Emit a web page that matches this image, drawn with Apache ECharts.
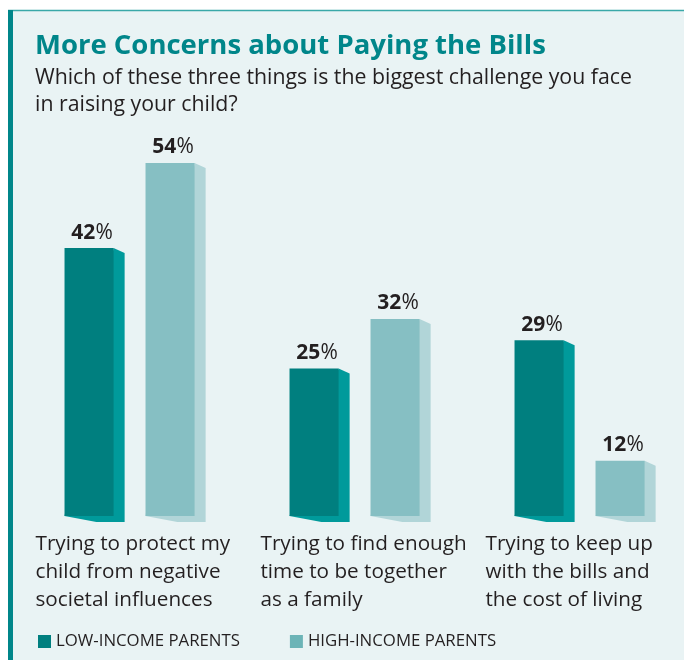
<!DOCTYPE html>
<html>
<head>
<meta charset="utf-8">
<script src="https://cdn.jsdelivr.net/npm/echarts@6/dist/echarts.min.js"></script>
<style>
  html, body { margin: 0; padding: 0; background: #ffffff; }
  #chart { width: 684px; height: 660px; }
</style>
</head>
<body>
<div id="chart"></div>
<script>
// Survey answers, percent of parents
const categories = [
  'Trying to protect my\nchild from negative\nsocietal influences',
  'Trying to find enough\ntime to be together\nas a family',
  'Trying to keep up\nwith the bills and\nthe cost of living'
];
const lowIncome = [42, 25, 29];
const highIncome = [54, 32, 12];
const seriesNames = ['LOW-INCOME PARENTS', 'HIGH-INCOME PARENTS'];

const FONT = '"Open Sans", "Noto Sans", sans-serif';
const TEXT = '#231f20';
const Y_MIN = 4.2;   // bars are cut off at the bottom of the plot
const Y_MAX = 54;

const palette = {
  low:  { front: '#007f7f', side: '#009a9b', legend: '#007f7f' },
  high: { front: '#86bfc3', side: '#b1d5d8', legend: '#6cb4b7' }
};

// Pseudo-3D column: flat front face with a receding side face
function columnRenderer(offsetFrac, colors) {
  return function (params, api) {
    const cat = api.value(0);
    const val = api.value(1);
    const band = api.size([1, 0])[0];
    const topPt = api.coord([cat, val]);
    const basePt = api.coord([cat, Y_MIN]);
    const w = band * 0.218;
    const d = band * 0.049;
    const x0 = topPt[0] + offsetFrac * band;
    const x1 = x0 + w;
    const yT = topPt[1];
    const yB = basePt[1];
    return {
      type: 'group',
      children: [
        {
          type: 'polygon',
          shape: { points: [[x1, yT], [x1 + d, yT + 5], [x1 + d, yB + 6], [x0 + w * 0.65, yB + 6], [x0, yB]] },
          style: { fill: colors.side }
        },
        {
          type: 'rect',
          shape: { x: x0, y: yT, width: w, height: yB - yT },
          style: { fill: colors.front }
        },
        {
          type: 'text',
          x: x0 + w / 2 + 3,
          y: yT - 5,
          style: {
            text: '{n|' + val + '}{p|%}',
            align: 'center',
            verticalAlign: 'bottom',
            rich: {
              n: { fontFamily: FONT, fontSize: 21, fontWeight: 'bold', fill: TEXT },
              p: { fontFamily: FONT, fontSize: 21, fontWeight: 'normal', fill: TEXT }
            }
          }
        }
      ]
    };
  };
}

// Category captions, left aligned under each pair of columns
function captionRenderer(params, api) {
  const cat = api.value(0);
  const pt = api.coord([cat, Y_MIN]);
  return {
    type: 'text',
    x: pt[0] - 99,
    y: pt[1] + 14,
    style: {
      text: categories[cat],
      fontFamily: FONT,
      fontSize: 20.7,
      lineHeight: 28,
      fill: TEXT,
      align: 'left',
      verticalAlign: 'top'
    }
  };
}

const chart = echarts.init(document.getElementById('chart'), null, { renderer: 'canvas' });

chart.setOption({
  backgroundColor: '#ffffff',
  animation: false,
  graphic: [
    { type: 'rect', z: -10, shape: { x: 8, y: 10, width: 676, height: 650 }, style: { fill: '#e9f3f4' } },
    { type: 'line', z: -9, shape: { x1: 8, y1: 10.5, x2: 684, y2: 10.5 }, style: { stroke: '#3aa8a8', lineWidth: 1.5 } },
    { type: 'rect', z: -8, shape: { x: 8, y: 10, width: 5, height: 650 }, style: { fill: '#00868a' } }
  ],
  title: {
    left: 35,
    top: 30,
    padding: 0,
    itemGap: 2,
    text: 'More Concerns about Paying the Bills',
    textStyle: { fontFamily: FONT, fontSize: 27.5, fontWeight: 'bold', color: '#00868a', lineHeight: 32 },
    subtext: 'Which of these three things is the biggest challenge you face\nin raising your child?',
    subtextStyle: { fontFamily: FONT, fontSize: 21.3, color: TEXT, lineHeight: 27 }
  },
  legend: {
    left: 38,
    top: 633,
    padding: 0,
    itemWidth: 13,
    itemHeight: 13,
    itemGap: 50,
    icon: 'rect',
    data: seriesNames,
    textStyle: { fontFamily: FONT, fontSize: 16.8, color: TEXT }
  },
  grid: { left: 22, top: 163, width: 675, height: 353, outerBoundsMode: 'none' },
  xAxis: { type: 'category', data: categories, show: false },
  yAxis: { type: 'value', min: Y_MIN, max: Y_MAX, show: false },
  series: [
    {
      name: seriesNames[0],
      type: 'custom',
      itemStyle: { color: palette.low.legend },
      renderItem: columnRenderer(-0.311, palette.low),
      data: lowIncome.map((v, i) => [i, v])
    },
    {
      name: seriesNames[1],
      type: 'custom',
      itemStyle: { color: palette.high.legend },
      renderItem: columnRenderer(0.049, palette.high),
      data: highIncome.map((v, i) => [i, v])
    },
    {
      name: 'captions',
      type: 'custom',
      silent: true,
      renderItem: captionRenderer,
      data: categories.map((c, i) => [i])
    }
  ]
});
</script>
</body>
</html>
